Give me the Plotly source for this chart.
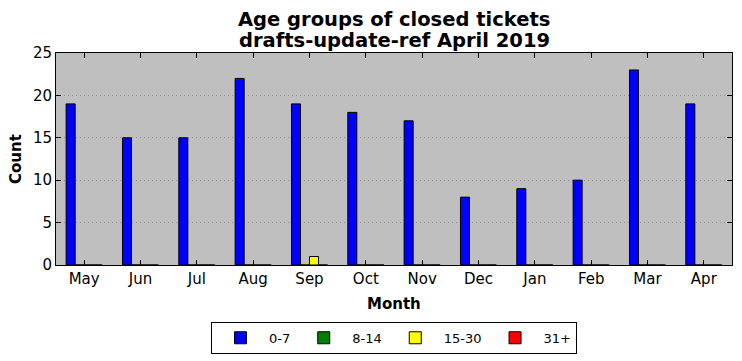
import plotly.graph_objects as go

months = ["May", "Jun", "Jul", "Aug", "Sep", "Oct", "Nov", "Dec", "Jan", "Feb", "Mar", "Apr"]
s_0_7 = [19, 15, 15, 22, 19, 18, 17, 8, 9, 10, 23, 19]
s_8_14 = [0, 0, 0, 0, 0, 0, 0, 0, 0, 0, 0, 0]
s_15_30 = [0, 0, 0, 0, 1, 0, 0, 0, 0, 0, 0, 0]
s_31p = [0, 0, 0, 0, 0, 0, 0, 0, 0, 0, 0, 0]
series = [("0-7", s_0_7, "#0000ff"), ("8-14", s_8_14, "#008000"),
          ("15-30", s_15_30, "#ffff00"), ("31+", s_31p, "#ff0000")]
title_lines = ["Age groups of closed tickets", "drafts-update-ref April 2019"]

font = "DejaVu Sans"
fig = go.Figure()
for name, vals, col in series:
    fig.add_trace(go.Bar(x=months, y=vals, name=name,
                         marker=dict(color=col, line=dict(color="black", width=1))))

fig.update_layout(
    width=734, height=353,
    margin=dict(l=48, r=10, t=45, b=96, autoexpand=False),
    paper_bgcolor="white", plot_bgcolor="#bfbfbf",
    barmode="group", bargap=0.36, bargroupgap=0,
    font=dict(family=font, color="black"),
    showlegend=True,
    legend=dict(orientation="h", x=0.5, xanchor="center", y=-0.268, yanchor="top",
                bordercolor="black", borderwidth=1, bgcolor="white", font=dict(size=13),
                itemwidth=47, traceorder="normal", tracegroupgap=0),
    xaxis=dict(range=[-0.5, 11.5], showline=True, linecolor="black", linewidth=1, mirror="ticks",
               ticks="inside", ticklen=5, tickcolor="black", tickfont=dict(size=15), showgrid=False,
               automargin=False),
    yaxis=dict(range=[0, 25], dtick=5, showline=True, linecolor="black", linewidth=1, mirror="ticks",
               ticks="inside", ticklen=5, tickcolor="black", tickfont=dict(size=15),
               showgrid=True, gridcolor="#8c8c8c", griddash="1px,3px", gridwidth=1, zeroline=False,
               automargin=False),
    annotations=[
        dict(text="<b>%s</b>" % title_lines[0], xref="paper", yref="paper", x=0.5, y=1.16,
             xanchor="center", yanchor="middle", showarrow=False, font=dict(size=19.5)),
        dict(text="<b>%s</b>" % title_lines[1], xref="paper", yref="paper", x=0.5, y=1.057,
             xanchor="center", yanchor="middle", showarrow=False, font=dict(size=19.5)),
        dict(text="<b>Month</b>", xref="paper", yref="paper", x=0.5, y=0, yshift=-28,
             xanchor="center", yanchor="top", showarrow=False, font=dict(size=15)),
        dict(text="<b>Count</b>", xref="paper", yref="paper", x=0, xshift=-40, y=0.5,
             xanchor="center", yanchor="middle", textangle=-90, showarrow=False, font=dict(size=15)),
    ],
)
fig.write_html("out.html")
